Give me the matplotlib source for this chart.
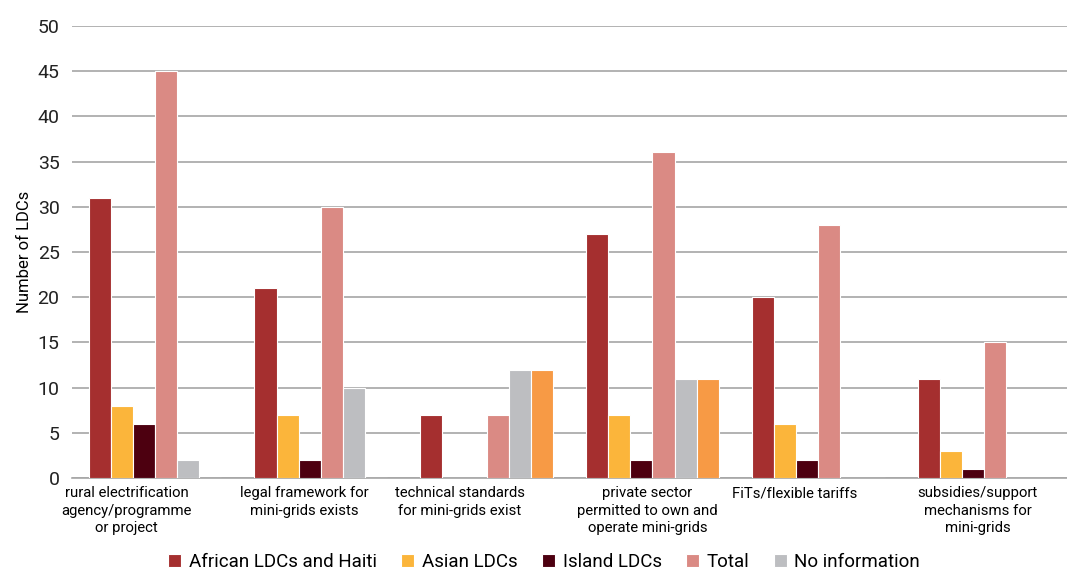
import numpy as np
import matplotlib
matplotlib.use("Agg")
import matplotlib.pyplot as plt

plt.rcParams['font.family'] = ['Roboto', 'DejaVu Sans']

categories = ["rural electrification\nagency/programme\nor project",
              "legal framework for\nmini-grids exists",
              "technical standards\nfor mini-grids exist",
              "private sector\npermitted to own and\noperate mini-grids",
              "FiTs/flexible tariffs",
              "subsidies/support\nmechanisms for\nmini-grids"]

african = [31, 21, 7, 27, 20, 11]
asian = [8, 7, 0, 7, 6, 3]
island = [6, 2, 0, 2, 2, 1]
total = [45, 30, 7, 36, 28, 15]
no_info = [2, 10, 12, 11, 0, 0]
other = [0, 0, 12, 11, 0, 0]

series = [("African LDCs and Haiti", african, "#A52F2F"),
          ("Asian LDCs", asian, "#FBB53B"),
          ("Island LDCs", island, "#4D0010"),
          ("Total", total, "#DA8A84"),
          ("No information", no_info, "#BDBEC1"),
          ("_other", other, "#F79A45")]

fig = plt.figure(figsize=(10.67, 5.74), dpi=100)
ax = fig.add_axes([0.0675, 0.167, 0.9325, 0.788])

x = np.arange(len(categories))
w = 0.8 / 6
for i, (name, vals, col) in enumerate(series):
    ax.bar(x + (i - 2.5) * w, vals, w, color=col, edgecolor="white",
           linewidth=0.8, label=name, zorder=3)

ax.set_xlim(-0.5, 5.5)
ax.set_ylim(0, 50)
ax.set_yticks(range(0, 51, 5))
ax.yaxis.grid(True, color="#A6A6A6", linewidth=1.2, zorder=0)
ax.tick_params(axis="y", length=0, labelsize=14, pad=9, labelcolor="#222222")

# labels sit a bit left of the group centre, like in the original
shift = [-0.17, -0.10, -0.16, -0.03, -0.14, -0.04]
ax.set_xticks(x + np.array(shift))
ax.set_xticklabels(categories, fontsize=10.7, linespacing=1.3)
ax.tick_params(axis="x", length=0, pad=6)

for s in ["top", "right", "left"]:
    ax.spines[s].set_visible(False)
ax.spines["bottom"].set_color("#A6A6A6")
ax.spines["bottom"].set_linewidth(1.2)

ax.set_ylabel("Number of LDCs", fontsize=12)
ax.yaxis.set_label_coords(-0.04, 0.5)

handles, labels = ax.get_legend_handles_labels()
fig.legend(handles[:5], labels[:5], loc="lower center", ncol=5,
           bbox_to_anchor=(0.51, -0.024), frameon=False, fontsize=13.5,
           handlelength=0.7, handleheight=0.7, handletextpad=0.4,
           columnspacing=1.3)

fig.savefig("out.png", dpi=100)
